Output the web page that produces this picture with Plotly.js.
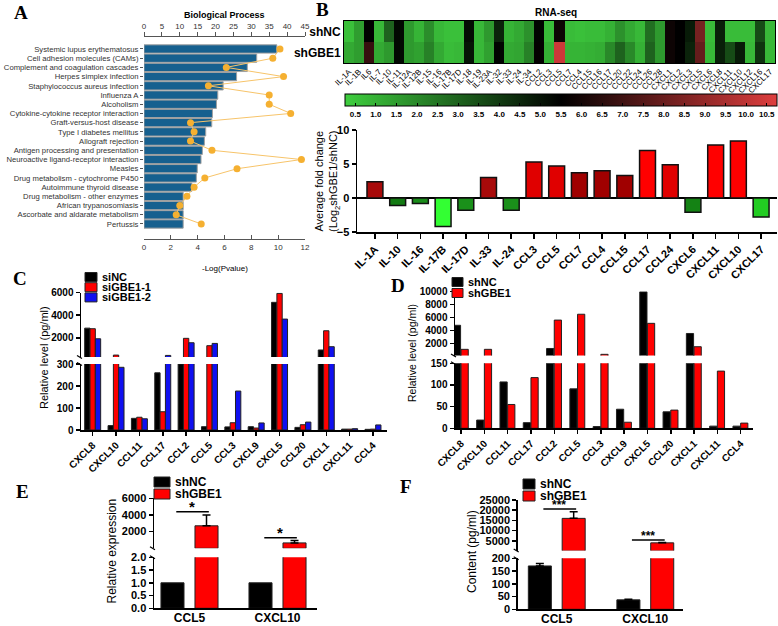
<!DOCTYPE html>
<html>
<head>
<meta charset="utf-8">
<script src="https://cdn.plot.ly/plotly-3.0.1.min.js"></script>
<style>body{margin:0;background:#fff}#fig{width:778px;height:626px}</style>
</head>
<body>
<div id="fig"></div>
<script>
// ---- data ----
// A: KEGG enrichment
var keggTerms = ['Systemic lupus erythematosus','Cell adhesion molecules (CAMs)','Complement and coagulation cascades',
  'Herpes simplex infection','Staphylococcus aureus infection','Influenza A','Alcoholism',
  'Cytokine-cytokine receptor interaction','Graft-versus-host disease','Type I diabetes mellitus',
  'Allograft rejection','Antigen processing and presentation','Neuroactive ligand-receptor interaction',
  'Measles','Drug metabolism - cytochrome P450','Autoimmune thyroid disease','Drug metabolism - other enzymes',
  'African trypanosomiasis','Ascorbate and aldarate metabolism','Pertussis'];
var keggLogP = [9.9, 8.4, 7.7, 6.9, 5.9, 5.5, 5.4, 5.1, 5.05, 4.6, 4.5, 4.35, 4.25, 3.97, 3.9, 3.57, 2.92, 2.92, 2.92, 2.92];
var keggCount = [38, 36, 23, 39, 18, 35, 35, 41, 13, 14, 13, 19, 44, 26, 17, 14, 12, 10, 9, 16];

// B: RNA-seq heatmap
var hmGenes = ['IL-1A','IL-1B','IL6','IL-7','IL-10','IL-11','IL-12A','IL-12B','IL-15','IL-16','IL-17B','IL-17D',
  'IL-18','IL-19','IL-23A','IL-32','IL-33','IL-24','IL-34','CCL2','CCL3','CCL5','CCL7','CCL4','CCL15','CCL16',
  'CCL17','CCL20','CCL22','CCL24','CCL26','CCL28','CXCL1','CXCL2','CXCL3','CXCL5','CXCL6','CXCL8','CXCL11',
  'CXCL10','CXCL12','CXCL16','CXCL17'];
var hmRows = ['shNC','shGBE1'];
var hmShNC = [0.6,1.5,5.5,0.8,3.0,5.3,1.6,0.9,1.9,0.8,0.6,0.6,5.2,0.8,1.6,4.6,0.9,1.2,1.8,5.4,0.7,5.8,0.7,0.6,
  0.7,0.7,1.0,1.8,1.2,0.8,2.7,1.6,5.8,5.5,4.8,8.3,0.7,4.7,0.7,0.7,0.7,3.6,0.8];
var hmShGBE1 = [1.2,1.5,6.8,1.2,1.6,5.3,1.6,1.4,2.2,1.2,0.7,0.8,5.0,0.8,1.4,5.4,1.2,1.3,2.2,5.6,1.0,10.3,0.9,0.9,
  1.0,1.1,2.0,3.0,2.0,1.0,3.0,1.6,5.8,5.5,4.6,7.9,0.8,4.7,3.6,4.8,0.8,4.2,0.8];
var cbTicks = [0.5,1.0,1.5,2.0,2.5,3.0,3.5,4.0,4.5,5.0,5.5,6.0,6.5,7.0,7.5,8.0,8.5,9.0,9.5,10.0,10.5];

// B: fold change
var fcGenes = ['IL-1A','IL-10','IL-16','IL-17B','IL-17D','IL-33','IL-24','CCL3','CCL5','CCL7','CCL4','CCL15',
  'CCL17','CCL24','CXCL6','CXCL11','CXCL10','CXCL17'];
var fcValues = [2.4,-1.1,-0.8,-4.2,-1.8,3.0,-1.8,5.3,4.7,3.7,4.0,3.3,7.0,4.9,-2.1,7.8,8.4,-2.8];
var fcColors = ['#a80a0a','#137a13','#1a8c1a','#33ff33','#1a901a','#a80a0a','#1a901a','#e00000','#e00000',
  '#a00000','#a00000','#a00000','#ff0000','#e00000','#148214','#ff0000','#ff0000','#22cc22'];

// C / D: ELISA panels
var elisaGenes = ['CXCL8','CXCL10','CCL11','CCL17','CCL2','CCL5','CCL3','CXCL9','CXCL5','CCL20','CXCL1','CXCL11','CCL4'];
var siNC     = [2850, 20, 53, 260, 300, 15, 14, 15, 5130, 12, 920, 4, 3];
var siGBE1_1 = [2800, 470, 58, 83, 1950, 1300, 33, 9, 5920, 24, 2620, 4, 4];
var siGBE1_2 = [1910, 285, 51, 440, 1560, 1500, 177, 32, 3650, 36, 1210, 6, 23];
var shNC_D   = [4800, 19, 107, 13, 1230, 91, 4, 44, 9950, 38, 3540, 5, 5];
var shGBE1_D = [1100, 1100, 55, 117, 5600, 6500, 330, 14, 5100, 42, 1500, 132, 12];

// E: qPCR, F: ELISA
var pairGenes = ['CCL5','CXCL10'];
var shNC_E = [1.0, 1.0];
var shGBE1_E = [2700, 650];
var shGBE1_E_err = [1300, 280];
var sigE = [4400, 1280];
var shNC_F = [170, 37];
var shNC_F_err = [10, 2];
var shGBE1_F = [16000, 4000];
var shGBE1_F_err = [3300, 200];
var sigF = [20600, 5400];

// ---- helpers ----
var W = 778, H = 626;
var FONT = 'Liberation Sans, Arial, sans-serif';
function px(x) { return x / W; }
function py(y) { return 1 - y / H; }

function axis(o) {
  var a = {showgrid:false, zeroline:false, showline:true, linecolor:'#000', linewidth:1.5,
    ticks:'outside', ticklen:4, tickwidth:1.5, tickcolor:'#000', fixedrange:true,
    tickfont:{family:FONT, size:10, color:'#000', weight:'bold'}};
  for (var k in o) a[k] = o[k];
  return a;
}

var data = [], shapes = [], annotations = [];

function note(x, y, text, opt) {
  var a = {xref:'paper', yref:'paper', x:px(x), y:py(y), text:text, showarrow:false,
    xanchor:'center', yanchor:'middle', font:{family:FONT, size:10, color:'#000'}};
  for (var k in opt) a[k] = opt[k];
  annotations.push(a);
}

function legendBox(names, colors, x, y0, dy, w, h, size) {
  names.forEach(function(n, i) {
    var yc = y0 + i * dy;
    shapes.push({type:'rect', xref:'paper', yref:'paper', x0:px(x), x1:px(x + w),
      y0:py(yc + h / 2), y1:py(yc - h / 2), fillcolor:colors[i], line:{color:'#222', width:1}});
    note(x + w + 3, yc, n, {xanchor:'left', font:{family:FONT, size:size, color:'#000', weight:'bold'}});
  });
}

// split-axis bars: same series on the lower and the upper y axis
// (values below the upper axis start are left out of the upper trace)
function splitBar(xa, yLow, yHigh, upperMin, x, y, color, width, offset, err) {
  [yLow, yHigh].forEach(function(ya, k) {
    var vals = k === 0 ? y : y.map(function(v) { return v > upperMin ? v : null; });
    var t = {type:'bar', x:x, y:vals, xaxis:xa, yaxis:ya, width:width, offset:offset,
      marker:{color:color, line:{color:'#222', width:1}}, hoverinfo:'none'};
    if (err) t.error_y = {type:'data', symmetric:false, array:err, arrayminus:err.map(function(){return 0;}),
      color:'#000', thickness:1.5, width:4};
    data.push(t);
  });
}

// ---- A ----
data.push({type:'bar', orientation:'h', x:keggLogP, y:keggTerms, xaxis:'x', yaxis:'y', width:0.9, offset:-0.45,
  marker:{color:'#16608f', line:{color:'#a0a0a0', width:1}}, hoverinfo:'none'});
data.push({type:'scatter', mode:'lines+markers', x:keggCount, y:keggTerms, xaxis:'x2', yaxis:'y',
  marker:{color:'#f5b031', size:7}, line:{color:'#f7c46a', width:1}, cliponaxis:false, hoverinfo:'none'});

// ---- B heatmap ----
data.push({type:'heatmap', x:hmGenes, y:hmRows, z:[hmShNC, hmShGBE1], xaxis:'x3', yaxis:'y3',
  zmin:0.25, zmax:10.75, hoverinfo:'none',
  colorscale:[[0,'rgb(62,206,62)'],[0.5,'rgb(0,0,0)'],[1,'rgb(222,62,62)']],
  colorbar:{orientation:'h', x:px(561), xanchor:'center', y:py(94), yanchor:'top', len:432, lenmode:'pixels',
    thickness:12, thicknessmode:'pixels', outlinewidth:1, outlinecolor:'#000', xpad:0, ypad:0,
    tickvals:cbTicks, ticktext:cbTicks.map(function(v){return v.toFixed(1);}), ticks:'inside', ticklen:3,
    tickcolor:'#000', tickfont:{family:FONT, size:8, color:'#000', weight:'bold'}}});

// ---- B fold change ----
data.push({type:'bar', x:fcGenes, y:fcValues, xaxis:'x4', yaxis:'y4', width:0.7, offset:-0.35,
  marker:{color:fcColors, line:{color:'#111', width:1.5}}, hoverinfo:'none'});

// ---- C ----
var cNames = ['siNC','siGBE1-1','siGBE1-2'], cColors = ['#000000','#ff0000','#1010f0'];
[siNC, siGBE1_1, siGBE1_2].forEach(function(s, i) {
  splitBar('x5', 'y5', 'y6', 300, elisaGenes, s, cColors[i], 0.228, -0.342 + 0.228 * i);
});
// ---- D ----
var dNames = ['shNC','shGBE1'], dColors = ['#000000','#ff0000'];
[shNC_D, shGBE1_D].forEach(function(s, i) {
  splitBar('x6', 'y7', 'y8', 150, elisaGenes, s, dColors[i], 0.31, -0.33 + 0.33 * i);
});
// ---- E ----
splitBar('x7', 'y9', 'y10', 2, pairGenes, shNC_E, '#000', 0.262, -0.324);
splitBar('x7', 'y9', 'y10', 2, pairGenes, shGBE1_E, '#ff0000', 0.262, 0.0625, shGBE1_E_err);
// ---- F ----
splitBar('x8', 'y11', 'y12', 200, pairGenes, shNC_F, '#000', 0.26, -0.32, shNC_F_err);
splitBar('x8', 'y11', 'y12', 200, pairGenes, shGBE1_F, '#ff0000', 0.26, 0.062, shGBE1_F_err);

// significance bars
function sig(xa, ya, levels, stars, size) {
  levels.forEach(function(v, i) {
    shapes.push({type:'line', xref:xa, yref:ya, x0:i - 0.15, x1:i + 0.22, y0:v, y1:v, line:{color:'#000', width:1.5}});
    annotations.push({xref:xa, yref:ya, x:i + 0.03, y:v, yanchor:'bottom', yshift:-5, text:stars, showarrow:false,
      font:{family:FONT, size:size, color:'#000', weight:'bold'}});
  });
}
sig('x7', 'y10', sigE, '*', 15);
sig('x8', 'y12', sigF, '***', 12);

// axis break marks on the split y axes
function breakMarks(xPix, yTop, yBottom) {
  [yTop, yBottom].forEach(function(y) {
    shapes.push({type:'line', xref:'paper', yref:'paper', x0:px(xPix - 4), x1:px(xPix + 1),
      y0:py(y - 1.5), y1:py(y + 1.5), line:{color:'#000', width:1.2}});
  });
}
breakMarks(81, 357, 364);
breakMarks(455, 355.5, 363.3);
breakMarks(154, 548.3, 557.3);
breakMarks(517.7, 550.6, 558.3);

// legends
legendBox(cNames, cColors, 85, 277, 10.2, 12, 9, 11);
legendBox(dNames, dColors, 452, 282, 11, 11, 9, 11);
legendBox(dNames, dColors, 154, 482, 12, 16, 10, 12);
legendBox(dNames, dColors, 523, 484, 12, 12, 10, 12);

// panel letters and titles
[['A',21,13],['B',322,9],['C',20,278],['D',398,285],['E',22,491],['F',406,487]].forEach(function(p) {
  note(p[1], p[2], p[0], {font:{family:'Liberation Serif, Times New Roman, serif', size:19, color:'#000', weight:'bold'}});
});
note(224, 15, 'Biological Process', {font:{family:FONT, size:9, color:'#000', weight:'bold'}});
note(225, 268, '-Log(Pvalue)', {font:{family:FONT, size:8, color:'#000'}});
note(556, 12, 'RNA-seq', {font:{family:FONT, size:10, color:'#000', weight:'bold'}});
note(328, 181, 'Average fold change<br>(Log<sub>2</sub>shGBE1/shNC)', {textangle:-90, font:{family:FONT, size:11, color:'#000'}});
note(44, 358, 'Relative level (pg/ml)', {textangle:-90, font:{family:FONT, size:11, color:'#000'}});
note(412, 353, 'Relative level (pg/ml)', {textangle:-90, font:{family:FONT, size:10.5, color:'#000'}});
note(111.5, 551, 'Relative expression', {textangle:-90, font:{family:FONT, size:12, color:'#000'}});
note(472, 552, 'Content (pg/ml)', {textangle:-90, font:{family:FONT, size:12, color:'#000'}});

var small = {family:FONT, size:8, color:'#333'};
var layout = {
  width:W, height:H, margin:{l:0, r:0, t:0, b:0}, paper_bgcolor:'#fff', plot_bgcolor:'rgba(0,0,0,0)',
  showlegend:false, barmode:'overlay', font:{family:FONT},
  // A
  xaxis: axis({domain:[px(144), px(305)], anchor:'y', range:[0, 12], dtick:2, linecolor:'#555', linewidth:1,
    ticks:'inside', tickcolor:'#555', tickwidth:1, tickfont:small}),
  xaxis2: axis({domain:[px(144), px(305)], anchor:'y', overlaying:'x', side:'top', range:[0, 45], dtick:5,
    linecolor:'#555', linewidth:1, tickcolor:'#555', tickwidth:1, tickfont:small}),
  yaxis: axis({domain:[py(239), py(37)], anchor:'x', range:[20.63, -1.3], showline:false, ticklen:3,
    tickmode:'array', tickvals:keggTerms, ticktext:keggTerms,
    tickcolor:'#555', tickwidth:1, tickfont:{family:FONT, size:7.7, color:'#333'}}),
  // B heatmap
  xaxis3: axis({domain:[px(344), px(775)], anchor:'y3', ticks:'', linewidth:1, mirror:true, tickangle:-45,
    tickmode:'array', tickvals:hmGenes, ticktext:hmGenes,
    tickfont:{family:FONT, size:8, color:'#000'}}),
  yaxis3: axis({domain:[py(63), py(21)], anchor:'x3', ticks:'', linewidth:1, mirror:true, autorange:'reversed',
    tickfont:{family:FONT, size:12, color:'#000', weight:'bold'}}),
  // B bars
  xaxis4: axis({domain:[px(357), px(777)], anchor:'y4', range:[-0.79, 17.7], tickangle:-45, ticklen:5,
    tickmode:'array', tickvals:fcGenes, ticktext:fcGenes,
    tickfont:{family:FONT, size:11, color:'#000', weight:'bold'}}),
  yaxis4: axis({domain:[py(232), py(130)], anchor:'x4', range:[-5, 10], dtick:5, zeroline:true,
    zerolinecolor:'#000', zerolinewidth:1.5, tickfont:{family:FONT, size:11, color:'#000', weight:'bold'}}),
  // C
  xaxis5: axis({domain:[px(81), px(387)], anchor:'y5', range:[-0.5, 12.6], tickangle:-45,
    tickmode:'array', tickvals:elisaGenes, ticktext:elisaGenes}),
  yaxis5: axis({domain:[py(430), py(364)], anchor:'x5', range:[0, 300], tickvals:[0, 100, 200, 300]}),
  yaxis6: axis({domain:[py(357), py(292.5)], anchor:'x5', range:[300, 6000], tickvals:[2000, 4000, 6000], tickformat:'d'}),
  // D
  xaxis6: axis({domain:[px(455), px(753)], anchor:'y7', range:[-0.26, 12.53], tickangle:-45,
    tickmode:'array', tickvals:elisaGenes, ticktext:elisaGenes}),
  yaxis7: axis({domain:[py(428.3), py(363.3)], anchor:'x6', range:[0, 150], tickvals:[0, 50, 100, 150]}),
  yaxis8: axis({domain:[py(355.5), py(291.5)], anchor:'x6', range:[150, 10000],
    tickvals:[2000, 4000, 6000, 8000, 10000], tickformat:'d'}),
  // E
  xaxis7: axis({domain:[px(154), px(317)], anchor:'y9', range:[-0.403, 1.449], ticks:'', ticklabelstandoff:-2,
    tickfont:{family:FONT, size:12, color:'#000', weight:'bold'}}),
  yaxis9: axis({domain:[py(608.3), py(557.3)], anchor:'x7', range:[0, 2], tickvals:[0, 0.5, 1, 1.5, 2], tickformat:'.1f',
    tickfont:{family:FONT, size:11, color:'#000', weight:'bold'}}),
  yaxis10: axis({domain:[py(548.3), py(498.3)], anchor:'x7', range:[2, 6000], tickvals:[2000, 4000, 6000], tickformat:'d',
    tickfont:{family:FONT, size:11, color:'#000', weight:'bold'}}),
  // F
  xaxis8: axis({domain:[px(517.7), px(683.3)], anchor:'y11', range:[-0.44, 1.43], ticks:'', ticklabelstandoff:-2,
    tickfont:{family:FONT, size:12, color:'#000', weight:'bold'}}),
  yaxis11: axis({domain:[py(609.3), py(558.3)], anchor:'x8', range:[0, 200], tickvals:[0, 50, 100, 150, 200],
    tickfont:{family:FONT, size:11, color:'#000', weight:'bold'}}),
  yaxis12: axis({domain:[py(550.6), py(500)], anchor:'x8', range:[200, 25000],
    tickvals:[5000, 10000, 15000, 20000, 25000], tickformat:'d',
    tickfont:{family:FONT, size:11, color:'#000', weight:'bold'}}),
  shapes:shapes,
  annotations:annotations
};

Plotly.newPlot('fig', data, layout, {staticPlot:true});
</script>
</body>
</html>
